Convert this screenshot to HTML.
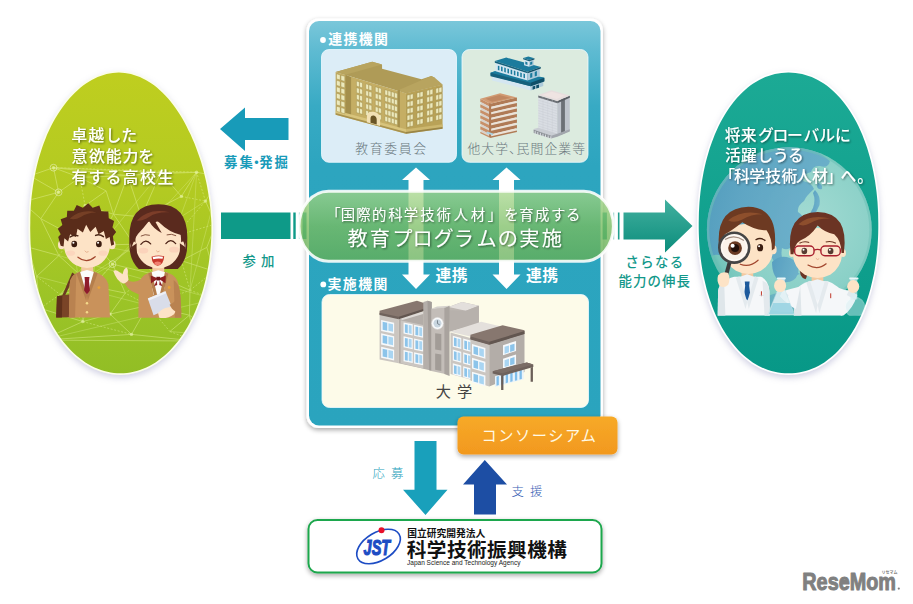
<!DOCTYPE html>
<html lang="ja">
<head>
<meta charset="utf-8">
<title>国際的科学技術人材を育成する教育プログラムの実施</title>
<style>
html,body{margin:0;padding:0;background:#fff;}
body{width:913px;height:604px;overflow:hidden;position:relative;font-family:"Liberation Sans","Noto Sans CJK JP",sans-serif;}
svg{position:absolute;left:0;top:0;display:block;}
text{font-family:"Liberation Sans","Noto Sans CJK JP",sans-serif;}
.w{fill:#fff;}
.b{font-weight:700;}
</style>
</head>
<body>
<svg width="913" height="604" viewBox="0 0 913 604">
<defs>
  <linearGradient id="gPanel" x1="0" y1="0" x2="0" y2="1">
    <stop offset="0" stop-color="#7ac7da"/>
    <stop offset="0.07" stop-color="#5fbbd2"/>
    <stop offset="0.21" stop-color="#38aac4"/>
    <stop offset="0.36" stop-color="#2da5bf"/>
    <stop offset="1" stop-color="#2aa4be"/>
  </linearGradient>
  <linearGradient id="gLeft" x1="0" y1="0" x2="0" y2="1">
    <stop offset="0" stop-color="#bfce1f"/>
    <stop offset="0.4" stop-color="#b2ca22"/>
    <stop offset="0.75" stop-color="#9cc427"/>
    <stop offset="1" stop-color="#92be25"/>
  </linearGradient>
  <linearGradient id="gRight" x1="0" y1="0" x2="0" y2="1">
    <stop offset="0" stop-color="#1caa95"/>
    <stop offset="1" stop-color="#079887"/>
  </linearGradient>
  <linearGradient id="gPill" x1="0" y1="0" x2="0" y2="1">
    <stop offset="0" stop-color="#a2d586" stop-opacity="0.78"/>
    <stop offset="0.5" stop-color="#78bc60" stop-opacity="0.79"/>
    <stop offset="1" stop-color="#62ae56" stop-opacity="0.8"/>
  </linearGradient>
  <linearGradient id="gArrowR" x1="0" y1="0" x2="0" y2="1">
    <stop offset="0" stop-color="#43b09f"/>
    <stop offset="1" stop-color="#0b8d7c"/>
  </linearGradient>
  <linearGradient id="gOrange" x1="0" y1="0" x2="0" y2="1">
    <stop offset="0" stop-color="#f7aa28"/>
    <stop offset="1" stop-color="#f2981e"/>
  </linearGradient>
  <filter id="sh" x="-10%" y="-10%" width="120%" height="125%">
    <feGaussianBlur in="SourceAlpha" stdDeviation="2.5"/>
    <feOffset dx="0" dy="2" result="o"/>
    <feComponentTransfer><feFuncA type="linear" slope="0.35"/></feComponentTransfer>
    <feMerge><feMergeNode/><feMergeNode in="SourceGraphic"/></feMerge>
  </filter>
  <filter id="shE" x="-10%" y="-6%" width="120%" height="114%">
    <feGaussianBlur in="SourceAlpha" stdDeviation="3"/>
    <feOffset dx="0" dy="2.5" result="b"/>
    <feFlood flood-color="#9c9cc4" flood-opacity="0.45"/>
    <feComposite in2="b" operator="in"/>
    <feMerge><feMergeNode/><feMergeNode in="SourceGraphic"/></feMerge>
  </filter>
  <filter id="tsh" x="-5%" y="-20%" width="110%" height="150%">
    <feGaussianBlur in="SourceAlpha" stdDeviation="0.8"/>
    <feOffset dx="0.8" dy="1" result="o"/>
    <feComponentTransfer><feFuncA type="linear" slope="0.5"/></feComponentTransfer>
    <feMerge><feMergeNode/><feMergeNode in="SourceGraphic"/></feMerge>
  </filter>
  <clipPath id="clipL"><path d="M118.8 72.6 L121.8 72.7 L124.8 73 L127.9 73.4 L130.9 74.1 L133.9 74.9 L136.9 75.9 L139.9 77.1 L142.8 78.4 L145.8 80 L148.7 81.7 L151.5 83.5 L154.4 85.6 L157.2 87.8 L159.9 90.2 L162.6 92.7 L165.3 95.4 L167.9 98.3 L170.4 101.3 L172.9 104.5 L175.3 107.8 L177.7 111.2 L180 114.8 L182.3 118.5 L184.4 122.3 L186.5 126.3 L188.5 130.4 L190.6 134.6 L192.5 138.9 L194.4 143.3 L196.1 147.8 L197.8 152.4 L199.4 157 L201 161.8 L202.4 166.6 L203.7 171.5 L204.9 176.5 L206.1 181.5 L207.1 186.6 L208 191.7 L208.8 196.8 L209.6 202 L210.2 207.2 L210.7 212.5 L211.1 217.7 L211.4 222.9 L211.4 228.2 L211.4 233.4 L211.2 238.7 L210.9 243.9 L210.5 249.1 L209.9 254.2 L209.3 259.3 L208.6 264.4 L207.7 269.4 L206.7 274.4 L205.7 279.3 L204.5 284.1 L203.2 288.9 L201.8 293.5 L200.3 298.1 L198.7 302.6 L197 307 L195.3 311.3 L193.4 315.5 L191.4 319.6 L189.4 323.6 L187.2 327.4 L185 331.1 L182.7 334.7 L180.3 338.1 L177.8 341.4 L175.2 344.6 L172.6 347.6 L169.9 350.5 L167.1 353.2 L164.3 355.7 L161.4 358.1 L158.5 360.3 L155.5 362.4 L152.5 364.2 L149.4 365.9 L146.3 367.5 L143.1 368.8 L139.9 370 L136.7 371 L133.5 371.8 L130.3 372.5 L127 372.9 L123.7 373.2 L120.4 373.3 L117.2 373.2 L113.9 372.9 L110.6 372.5 L107.4 371.8 L104.2 371 L101 370 L97.8 368.8 L94.6 367.5 L91.5 365.9 L88.4 364.2 L85.4 362.4 L82.4 360.3 L79.5 358.1 L76.6 355.7 L73.8 353.2 L71 350.5 L68.3 347.6 L65.7 344.6 L63.1 341.4 L60.6 338.1 L58.2 334.7 L55.9 331.1 L53.7 327.4 L51.5 323.6 L49.5 319.6 L47.5 315.5 L45.6 311.3 L43.9 307 L42.2 302.6 L40.7 298.1 L39.2 293.5 L37.9 288.9 L36.6 284.1 L35.5 279.3 L34.5 274.4 L33.6 269.4 L32.7 264.4 L32.1 259.3 L31.5 254.2 L31 249.1 L30.6 243.9 L30.4 238.7 L30.3 233.4 L30.2 228.2 L30.3 222.9 L30.3 217.7 L30.5 212.5 L30.7 207.2 L31.1 202 L31.6 196.8 L32.2 191.7 L32.9 186.6 L33.7 181.5 L34.6 176.5 L35.6 171.5 L36.7 166.6 L37.9 161.8 L39.2 157 L40.6 152.4 L42.1 147.8 L43.7 143.3 L45.4 138.9 L47.1 134.6 L49 130.4 L51 126.3 L53.1 122.3 L55.2 118.5 L57.5 114.8 L59.8 111.2 L62.2 107.8 L64.6 104.5 L67.1 101.3 L69.6 98.3 L72.2 95.4 L74.9 92.7 L77.6 90.2 L80.3 87.8 L83.1 85.6 L86 83.5 L88.8 81.7 L91.7 80 L94.7 78.4 L97.6 77.1 L100.6 75.9 L103.6 74.9 L106.6 74.1 L109.6 73.4 L112.7 73 L115.7 72.7 Z"/></clipPath>
  <clipPath id="clipR"><path d="M788.5 72.6 L792.1 72.7 L795.5 73 L798.8 73.4 L802.1 74.1 L805.4 74.9 L808.5 75.9 L811.7 77.1 L814.8 78.4 L817.8 80 L820.8 81.7 L823.8 83.5 L826.7 85.6 L829.5 87.8 L832.3 90.2 L835 92.7 L837.7 95.4 L840.3 98.3 L842.8 101.3 L845.3 104.5 L847.7 107.8 L850 111.2 L852.2 114.8 L854.4 118.5 L856.5 122.3 L858.5 126.3 L860.4 130.4 L862.2 134.6 L863.9 138.9 L865.5 143.3 L867.1 147.8 L868.5 152.4 L869.8 157 L871.1 161.8 L872.2 166.6 L873.3 171.5 L874.2 176.5 L875.1 181.5 L875.8 186.6 L876.5 191.7 L877 196.8 L877.5 202 L877.8 207.2 L878.1 212.5 L878.2 217.7 L878.3 222.9 L878.3 228.2 L878.2 233.4 L878 238.7 L877.7 243.9 L877.3 249.1 L876.8 254.2 L876.2 259.3 L875.5 264.4 L874.7 269.4 L873.8 274.4 L872.7 279.3 L871.6 284.1 L870.4 288.9 L869.1 293.5 L867.7 298.1 L866.2 302.6 L864.6 307 L862.9 311.3 L861.1 315.5 L859.2 319.6 L857.2 323.6 L855.1 327.4 L853 331.1 L850.7 334.7 L848.4 338.1 L846 341.4 L843.5 344.6 L841 347.6 L838.4 350.5 L835.7 353.2 L832.9 355.7 L830.1 358.1 L827.2 360.3 L824.3 362.4 L821.3 364.2 L818.3 365.9 L815.2 367.5 L812 368.8 L808.9 370 L805.6 371 L802.3 371.8 L799 372.5 L795.6 372.9 L792.2 373.2 L788.5 373.3 L784.8 373.2 L781.4 372.9 L778 372.5 L774.7 371.8 L771.4 371 L768.1 370 L765 368.8 L761.8 367.5 L758.7 365.9 L755.7 364.2 L752.7 362.4 L749.8 360.3 L746.9 358.1 L744.1 355.7 L741.3 353.2 L738.6 350.5 L736 347.6 L733.5 344.6 L731 341.4 L728.6 338.1 L726.3 334.7 L724 331.1 L721.9 327.4 L719.8 323.6 L717.8 319.6 L715.9 315.5 L714.1 311.3 L712.4 307 L710.8 302.6 L709.3 298.1 L707.9 293.5 L706.6 288.9 L705.4 284.1 L704.3 279.3 L703.2 274.4 L702.3 269.4 L701.5 264.4 L700.8 259.3 L700.2 254.2 L699.7 249.1 L699.3 243.9 L699 238.7 L698.8 233.4 L698.7 228.2 L698.7 222.9 L698.8 217.7 L698.9 212.5 L699.2 207.2 L699.5 202 L700 196.8 L700.5 191.7 L701.2 186.6 L701.9 181.5 L702.8 176.5 L703.7 171.5 L704.8 166.6 L705.9 161.8 L707.2 157 L708.5 152.4 L709.9 147.8 L711.5 143.3 L713.1 138.9 L714.8 134.6 L716.6 130.4 L718.5 126.3 L720.5 122.3 L722.6 118.5 L724.8 114.8 L727 111.2 L729.3 107.8 L731.7 104.5 L734.2 101.3 L736.7 98.3 L739.3 95.4 L742 92.7 L744.7 90.2 L747.5 87.8 L750.3 85.6 L753.2 83.5 L756.2 81.7 L759.2 80 L762.2 78.4 L765.3 77.1 L768.5 75.9 L771.6 74.9 L774.9 74.1 L778.2 73.4 L781.5 73 L784.9 72.7 Z"/></clipPath>
</defs>

<!-- ===== LEFT ELLIPSE ===== -->
<g id="left">
  <path d="M118.8 72.6 L121.8 72.7 L124.8 73 L127.9 73.4 L130.9 74.1 L133.9 74.9 L136.9 75.9 L139.9 77.1 L142.8 78.4 L145.8 80 L148.7 81.7 L151.5 83.5 L154.4 85.6 L157.2 87.8 L159.9 90.2 L162.6 92.7 L165.3 95.4 L167.9 98.3 L170.4 101.3 L172.9 104.5 L175.3 107.8 L177.7 111.2 L180 114.8 L182.3 118.5 L184.4 122.3 L186.5 126.3 L188.5 130.4 L190.6 134.6 L192.5 138.9 L194.4 143.3 L196.1 147.8 L197.8 152.4 L199.4 157 L201 161.8 L202.4 166.6 L203.7 171.5 L204.9 176.5 L206.1 181.5 L207.1 186.6 L208 191.7 L208.8 196.8 L209.6 202 L210.2 207.2 L210.7 212.5 L211.1 217.7 L211.4 222.9 L211.4 228.2 L211.4 233.4 L211.2 238.7 L210.9 243.9 L210.5 249.1 L209.9 254.2 L209.3 259.3 L208.6 264.4 L207.7 269.4 L206.7 274.4 L205.7 279.3 L204.5 284.1 L203.2 288.9 L201.8 293.5 L200.3 298.1 L198.7 302.6 L197 307 L195.3 311.3 L193.4 315.5 L191.4 319.6 L189.4 323.6 L187.2 327.4 L185 331.1 L182.7 334.7 L180.3 338.1 L177.8 341.4 L175.2 344.6 L172.6 347.6 L169.9 350.5 L167.1 353.2 L164.3 355.7 L161.4 358.1 L158.5 360.3 L155.5 362.4 L152.5 364.2 L149.4 365.9 L146.3 367.5 L143.1 368.8 L139.9 370 L136.7 371 L133.5 371.8 L130.3 372.5 L127 372.9 L123.7 373.2 L120.4 373.3 L117.2 373.2 L113.9 372.9 L110.6 372.5 L107.4 371.8 L104.2 371 L101 370 L97.8 368.8 L94.6 367.5 L91.5 365.9 L88.4 364.2 L85.4 362.4 L82.4 360.3 L79.5 358.1 L76.6 355.7 L73.8 353.2 L71 350.5 L68.3 347.6 L65.7 344.6 L63.1 341.4 L60.6 338.1 L58.2 334.7 L55.9 331.1 L53.7 327.4 L51.5 323.6 L49.5 319.6 L47.5 315.5 L45.6 311.3 L43.9 307 L42.2 302.6 L40.7 298.1 L39.2 293.5 L37.9 288.9 L36.6 284.1 L35.5 279.3 L34.5 274.4 L33.6 269.4 L32.7 264.4 L32.1 259.3 L31.5 254.2 L31 249.1 L30.6 243.9 L30.4 238.7 L30.3 233.4 L30.2 228.2 L30.3 222.9 L30.3 217.7 L30.5 212.5 L30.7 207.2 L31.1 202 L31.6 196.8 L32.2 191.7 L32.9 186.6 L33.7 181.5 L34.6 176.5 L35.6 171.5 L36.7 166.6 L37.9 161.8 L39.2 157 L40.6 152.4 L42.1 147.8 L43.7 143.3 L45.4 138.9 L47.1 134.6 L49 130.4 L51 126.3 L53.1 122.3 L55.2 118.5 L57.5 114.8 L59.8 111.2 L62.2 107.8 L64.6 104.5 L67.1 101.3 L69.6 98.3 L72.2 95.4 L74.9 92.7 L77.6 90.2 L80.3 87.8 L83.1 85.6 L86 83.5 L88.8 81.7 L91.7 80 L94.7 78.4 L97.6 77.1 L100.6 75.9 L103.6 74.9 L106.6 74.1 L109.6 73.4 L112.7 73 L115.7 72.7 Z" fill="#fff" stroke="#fbfde8" stroke-width="3.2" filter="url(#shE)"/>
  <path d="M118.8 72.6 L121.8 72.7 L124.8 73 L127.9 73.4 L130.9 74.1 L133.9 74.9 L136.9 75.9 L139.9 77.1 L142.8 78.4 L145.8 80 L148.7 81.7 L151.5 83.5 L154.4 85.6 L157.2 87.8 L159.9 90.2 L162.6 92.7 L165.3 95.4 L167.9 98.3 L170.4 101.3 L172.9 104.5 L175.3 107.8 L177.7 111.2 L180 114.8 L182.3 118.5 L184.4 122.3 L186.5 126.3 L188.5 130.4 L190.6 134.6 L192.5 138.9 L194.4 143.3 L196.1 147.8 L197.8 152.4 L199.4 157 L201 161.8 L202.4 166.6 L203.7 171.5 L204.9 176.5 L206.1 181.5 L207.1 186.6 L208 191.7 L208.8 196.8 L209.6 202 L210.2 207.2 L210.7 212.5 L211.1 217.7 L211.4 222.9 L211.4 228.2 L211.4 233.4 L211.2 238.7 L210.9 243.9 L210.5 249.1 L209.9 254.2 L209.3 259.3 L208.6 264.4 L207.7 269.4 L206.7 274.4 L205.7 279.3 L204.5 284.1 L203.2 288.9 L201.8 293.5 L200.3 298.1 L198.7 302.6 L197 307 L195.3 311.3 L193.4 315.5 L191.4 319.6 L189.4 323.6 L187.2 327.4 L185 331.1 L182.7 334.7 L180.3 338.1 L177.8 341.4 L175.2 344.6 L172.6 347.6 L169.9 350.5 L167.1 353.2 L164.3 355.7 L161.4 358.1 L158.5 360.3 L155.5 362.4 L152.5 364.2 L149.4 365.9 L146.3 367.5 L143.1 368.8 L139.9 370 L136.7 371 L133.5 371.8 L130.3 372.5 L127 372.9 L123.7 373.2 L120.4 373.3 L117.2 373.2 L113.9 372.9 L110.6 372.5 L107.4 371.8 L104.2 371 L101 370 L97.8 368.8 L94.6 367.5 L91.5 365.9 L88.4 364.2 L85.4 362.4 L82.4 360.3 L79.5 358.1 L76.6 355.7 L73.8 353.2 L71 350.5 L68.3 347.6 L65.7 344.6 L63.1 341.4 L60.6 338.1 L58.2 334.7 L55.9 331.1 L53.7 327.4 L51.5 323.6 L49.5 319.6 L47.5 315.5 L45.6 311.3 L43.9 307 L42.2 302.6 L40.7 298.1 L39.2 293.5 L37.9 288.9 L36.6 284.1 L35.5 279.3 L34.5 274.4 L33.6 269.4 L32.7 264.4 L32.1 259.3 L31.5 254.2 L31 249.1 L30.6 243.9 L30.4 238.7 L30.3 233.4 L30.2 228.2 L30.3 222.9 L30.3 217.7 L30.5 212.5 L30.7 207.2 L31.1 202 L31.6 196.8 L32.2 191.7 L32.9 186.6 L33.7 181.5 L34.6 176.5 L35.6 171.5 L36.7 166.6 L37.9 161.8 L39.2 157 L40.6 152.4 L42.1 147.8 L43.7 143.3 L45.4 138.9 L47.1 134.6 L49 130.4 L51 126.3 L53.1 122.3 L55.2 118.5 L57.5 114.8 L59.8 111.2 L62.2 107.8 L64.6 104.5 L67.1 101.3 L69.6 98.3 L72.2 95.4 L74.9 92.7 L77.6 90.2 L80.3 87.8 L83.1 85.6 L86 83.5 L88.8 81.7 L91.7 80 L94.7 78.4 L97.6 77.1 L100.6 75.9 L103.6 74.9 L106.6 74.1 L109.6 73.4 L112.7 73 L115.7 72.7 Z" fill="url(#gLeft)"/>
  <g id="leftnet" clip-path="url(#clipL)">
<g stroke="#ecf8a8" stroke-width="0.8" fill="none" opacity="0.5">
<path d="M112.5 264.1 L152.8 274"/>
<path d="M112.5 264.1 L133.9 244.2"/>
<path d="M112.5 264.1 L96.3 245.2"/>
<path d="M112.5 264.1 L92.4 286.3" stroke-dasharray="2 1.6"/>
<path d="M112.5 264.1 L125.3 293.1"/>
<path d="M206.8 247.4 L181.4 260.7"/>
<path d="M206.8 247.4 L213.9 271.2"/>
<path d="M206.8 247.4 L215.8 224"/>
<path d="M58.9 255.6 L40.8 218.7"/>
<path d="M58.9 255.6 L28 247.1"/>
<path d="M58.9 255.6 L36.6 276.4"/>
<path d="M58.9 255.6 L92.4 286.3"/>
<path d="M58.9 255.6 L73.3 236.1" stroke-dasharray="2 1.6"/>
<path d="M148 305.4 L152.8 274"/>
<path d="M148 305.4 L110.1 314.1"/>
<path d="M148 305.4 L190 290.3" stroke-dasharray="2 1.6"/>
<path d="M148 305.4 L169.9 331.5" stroke-dasharray="2 1.6"/>
<path d="M148 305.4 L189.4 315.2"/>
<path d="M148 305.4 L125.3 293.1" stroke-dasharray="2 1.6"/>
<path d="M148 305.4 L131.5 334.4"/>
<path d="M40.8 218.7 L22.1 202.1"/>
<path d="M40.8 218.7 L58.6 192.3"/>
<path d="M40.8 218.7 L73.3 236.1"/>
<path d="M40.1 308.3 L28 247.1" stroke-dasharray="2 1.6"/>
<path d="M40.1 308.3 L36.6 276.4"/>
<path d="M40.1 308.3 L60.1 294.5" stroke-dasharray="2 1.6"/>
<path d="M40.1 308.3 L82.8 321.6"/>
<path d="M40.1 308.3 L42.1 340.1" stroke-dasharray="2 1.6"/>
<path d="M160.7 172.4 L53.5 167.7"/>
<path d="M160.7 172.4 L127.7 175.5"/>
<path d="M160.7 172.4 L181.4 196.4"/>
<path d="M160.7 172.4 L141.3 216.9"/>
<path d="M160.7 172.4 L196.6 172.3"/>
<path d="M218.4 335.8 L214.8 299.2"/>
<path d="M218.4 335.8 L189.4 315.2"/>
<path d="M218.4 335.8 L213.9 271.2"/>
<path d="M218.4 335.8 L215.8 224"/>
<path d="M218.4 335.8 L194.9 341"/>
<path d="M218.4 335.8 L220.7 176.5"/>
<path d="M152.8 274 L190 290.3"/>
<path d="M152.8 274 L175.3 235.9"/>
<path d="M152.8 274 L133.9 244.2"/>
<path d="M152.8 274 L125.3 293.1" stroke-dasharray="2 1.6"/>
<path d="M152.8 274 L181.4 260.7"/>
<path d="M53.5 167.7 L127.7 175.5"/>
<path d="M53.5 167.7 L79.8 177.4"/>
<path d="M53.5 167.7 L58.6 192.3"/>
<path d="M53.5 167.7 L196.6 172.3" stroke-dasharray="2 1.6"/>
<path d="M53.5 167.7 L29.9 175.8"/>
<path d="M127.7 175.5 L113.5 214.2"/>
<path d="M127.7 175.5 L79.8 177.4"/>
<path d="M127.7 175.5 L141.3 216.9"/>
<path d="M28 247.1 L22.1 202.1" stroke-dasharray="2 1.6"/>
<path d="M28 247.1 L36.6 276.4"/>
<path d="M28 247.1 L42.1 340.1"/>
<path d="M110.1 314.1 L82.8 321.6"/>
<path d="M110.1 314.1 L92.4 286.3" stroke-dasharray="2 1.6"/>
<path d="M110.1 314.1 L125.3 293.1"/>
<path d="M110.1 314.1 L131.5 334.4"/>
<path d="M113.5 214.2 L85.1 205.7"/>
<path d="M113.5 214.2 L133.9 244.2"/>
<path d="M113.5 214.2 L96.3 245.2"/>
<path d="M113.5 214.2 L141.3 216.9"/>
<path d="M113.5 214.2 L106.1 190.9"/>
<path d="M190 290.3 L214.8 299.2" stroke-dasharray="2 1.6"/>
<path d="M190 290.3 L189.4 315.2"/>
<path d="M190 290.3 L181.4 260.7" stroke-dasharray="2 1.6"/>
<path d="M190 290.3 L213.9 271.2" stroke-dasharray="2 1.6"/>
<path d="M85.1 205.7 L79.8 177.4" stroke-dasharray="2 1.6"/>
<path d="M85.1 205.7 L96.3 245.2"/>
<path d="M85.1 205.7 L73.3 236.1"/>
<path d="M85.1 205.7 L106.1 190.9"/>
<path d="M79.8 177.4 L58.6 192.3"/>
<path d="M79.8 177.4 L106.1 190.9"/>
<path d="M175.3 235.9 L133.9 244.2" stroke-dasharray="2 1.6"/>
<path d="M175.3 235.9 L141.3 216.9"/>
<path d="M175.3 235.9 L205.5 201.1" stroke-dasharray="2 1.6"/>
<path d="M175.3 235.9 L181.4 260.7"/>
<path d="M175.3 235.9 L215.8 224" stroke-dasharray="2 1.6"/>
<path d="M22.1 202.1 L58.6 192.3"/>
<path d="M22.1 202.1 L29.9 175.8" stroke-dasharray="2 1.6"/>
<path d="M36.6 276.4 L60.1 294.5" stroke-dasharray="2 1.6"/>
<path d="M214.8 299.2 L213.9 271.2"/>
<path d="M181.4 196.4 L141.3 216.9"/>
<path d="M181.4 196.4 L205.5 201.1" stroke-dasharray="2 1.6"/>
<path d="M181.4 196.4 L196.6 172.3"/>
<path d="M133.9 244.2 L96.3 245.2"/>
<path d="M133.9 244.2 L141.3 216.9" stroke-dasharray="2 1.6"/>
<path d="M60.1 294.5 L82.8 321.6" stroke-dasharray="2 1.6"/>
<path d="M60.1 294.5 L92.4 286.3"/>
<path d="M82.8 321.6 L42.1 340.1"/>
<path d="M82.8 321.6 L92.4 286.3"/>
<path d="M82.8 321.6 L131.5 334.4" stroke-dasharray="2 1.6"/>
<path d="M42.1 340.1 L131.5 334.4"/>
<path d="M42.1 340.1 L194.9 341"/>
<path d="M96.3 245.2 L92.4 286.3"/>
<path d="M58.6 192.3 L29.9 175.8"/>
<path d="M169.9 331.5 L189.4 315.2"/>
<path d="M169.9 331.5 L194.9 341" stroke-dasharray="2 1.6"/>
<path d="M205.5 201.1 L196.6 172.3" stroke-dasharray="2 1.6"/>
<path d="M205.5 201.1 L215.8 224"/>
<path d="M205.5 201.1 L220.7 176.5"/>
<path d="M92.4 286.3 L125.3 293.1"/>
<path d="M189.4 315.2 L194.9 341"/>
<path d="M196.6 172.3 L220.7 176.5"/>
<path d="M181.4 260.7 L213.9 271.2"/>
<path d="M131.5 334.4 L194.9 341"/>
<path d="M213.9 271.2 L215.8 224"/>
<path d="M215.8 224 L220.7 176.5"/>
<path d="M169.9 331.5 L218.4 335.8" opacity="0.7"/>
<path d="M148 305.4 L36.6 276.4" opacity="0.7"/>
<path d="M196.6 172.3 L148 305.4" opacity="0.7"/>
<path d="M127.7 175.5 L196.6 172.3" opacity="0.7"/>
<path d="M82.8 321.6 L73.3 236.1" opacity="0.7"/>
<path d="M214.8 299.2 L42.1 340.1" opacity="0.7"/>
<path d="M190 290.3 L220.7 176.5" opacity="0.7"/>
<path d="M160.7 172.4 L60.1 294.5" opacity="0.7"/>
<path d="M58.9 255.6 L214.8 299.2" opacity="0.7"/>
<path d="M60.1 294.5 L205.5 201.1" opacity="0.7"/>
<path d="M190 290.3 L196.6 172.3" opacity="0.7"/>
<path d="M196.6 172.3 L92.4 286.3" opacity="0.7"/>
<path d="M112.5 264.1 L60.1 294.5" opacity="0.7"/>
<path d="M96.3 245.2 L181.4 260.7" opacity="0.7"/>
</g><g fill="#f0fab8" opacity="0.55">
<circle cx="112.5" cy="264.1" r="1.7"/>
<circle cx="112.5" cy="264.1" r="3.4" fill="none" stroke="#fff" stroke-width="0.8"/>
<circle cx="148" cy="305.4" r="1.7"/>
<circle cx="160.7" cy="172.4" r="1.7"/>
<circle cx="53.5" cy="167.7" r="1.7"/>
<circle cx="53.5" cy="167.7" r="3.4" fill="none" stroke="#fff" stroke-width="0.8"/>
<circle cx="110.1" cy="314.1" r="1.7"/>
<circle cx="85.1" cy="205.7" r="1.7"/>
<circle cx="22.1" cy="202.1" r="1.7"/>
<circle cx="22.1" cy="202.1" r="3.4" fill="none" stroke="#fff" stroke-width="0.8"/>
<circle cx="181.4" cy="196.4" r="1.7"/>
<circle cx="82.8" cy="321.6" r="1.7"/>
<circle cx="58.6" cy="192.3" r="1.7"/>
<circle cx="58.6" cy="192.3" r="3.4" fill="none" stroke="#fff" stroke-width="0.8"/>
<circle cx="205.5" cy="201.1" r="1.7"/>
<circle cx="196.6" cy="172.3" r="1.7"/>
<circle cx="29.9" cy="175.8" r="1.7"/>
<circle cx="29.9" cy="175.8" r="3.4" fill="none" stroke="#fff" stroke-width="0.8"/>
<circle cx="131.5" cy="334.4" r="1.7"/>
<circle cx="194.9" cy="341" r="1.7"/>
</g>
</g>
  <g id="students">
<g transform="translate(50 198) scale(0.20547)">
<path d="M108 362 L58 478 L70 482 L122 372 Z" fill="#6b3a22"/>
<path d="M34 478 L98 468 L104 580 L30 582 Z" fill="#7a4427"/>
<path d="M34 478 L60 474 L58 582 L30 582 Z" fill="#5f311b"/>
<path d="M92 582 L96 420 Q98 372 150 358 L210 358 Q270 372 284 420 L292 582 Z" fill="#c9925b"/>
<path d="M92 582 L96 420 Q98 380 128 366 L122 582 Z" fill="#b98250"/>
<rect x="152" y="325" width="58" height="45" fill="#f3c9a0"/>
<path d="M138 362 L180 350 L222 362 L200 440 L180 470 L160 440 Z" fill="#fbfbfb"/>
<path d="M128 366 L146 358 L180 475 L176 500 Z" fill="#b57e4c"/>
<path d="M232 366 L214 358 L180 475 L184 500 Z" fill="#b57e4c"/>
<path d="M168 384 L192 384 L190 405 L194 450 L180 470 L166 450 L170 405 Z" fill="#8e1b2c"/>
<circle cx="180" cy="512" r="6" fill="#f4d98a"/><circle cx="180" cy="556" r="6" fill="#f4d98a"/>
<circle cx="238" cy="436" r="7" fill="#e8a23a"/>
<ellipse cx="56" cy="228" rx="17" ry="22" fill="#fde3c6"/><ellipse cx="302" cy="228" rx="17" ry="22" fill="#fde3c6"/>
<path d="M66 200 Q60 120 180 118 Q300 120 294 200 Q298 290 236 326 Q180 356 124 326 Q62 290 66 200 Z" fill="#fde3c6"/>
<ellipse cx="100" cy="268" rx="22" ry="13" fill="#f9c4ae" opacity="0.4"/><ellipse cx="258" cy="268" rx="22" ry="13" fill="#f9c4ae" opacity="0.4"/>
<path d="M52 232 L40 190 L52 176 L38 150 L60 132 L52 104 L82 92 L84 62 L116 62 L130 34 L160 48 L186 26 L208 48 L240 36 L250 64 L284 66 L286 98 L312 112 L304 142 L322 166 L306 186 L312 226 L298 232 L290 190 L272 200 L262 160 L236 176 L222 140 L196 166 L176 130 L160 168 L134 150 L126 190 L98 176 L88 212 L70 196 L66 236 Z" fill="#5a2c1a"/>
<path d="M96 100 Q150 52 226 70 Q180 70 150 92 Q120 110 96 100 Z" fill="#7c4528" opacity="0.8"/>
<path d="M98 190 Q116 176 136 184" stroke="#4a2616" stroke-width="7" fill="none" stroke-linecap="round"/>
<path d="M222 182 Q242 174 260 188" stroke="#4a2616" stroke-width="7" fill="none" stroke-linecap="round"/>
<ellipse cx="118" cy="224" rx="14" ry="16" fill="#3a1c10"/><circle cx="114" cy="218" r="5" fill="#fff"/>
<ellipse cx="238" cy="224" rx="14" ry="16" fill="#3a1c10"/><circle cx="234" cy="218" r="5" fill="#fff"/>
<path d="M170 258 Q176 270 186 262" stroke="#e0a684" stroke-width="4" fill="none" stroke-linecap="round"/>
<path d="M136 288 Q178 322 220 286" stroke="#a2462e" stroke-width="6" fill="none" stroke-linecap="round"/>
</g>
<g transform="translate(108 198) scale(0.20517)">
<path d="M104 210 Q96 30 246 30 Q396 30 386 215 Q390 300 340 346 L150 346 Q100 300 104 210 Z" fill="#5a2a1e"/>
<path d="M168 392 Q120 420 96 398 L78 412 Q110 470 170 470 Z" fill="#c9925b"/>
<path d="M26 356 Q40 346 56 362 L72 372 Q74 346 90 340 Q100 346 96 372 L100 398 Q86 420 70 416 Q40 400 26 356 Z" fill="#fde3c6"/>
<path d="M148 584 L150 430 Q152 380 206 362 L286 362 Q340 380 346 430 L356 584 Z" fill="#c9925b"/>
<path d="M320 400 Q350 420 352 470 L358 584 L326 584 Z" fill="#b98250"/>
<rect x="216" y="335" width="58" height="40" fill="#f3c9a0"/>
<path d="M200 366 L245 352 L290 366 L268 470 L245 500 L222 470 Z" fill="#fbfbfb"/>
<path d="M196 368 L212 360 L246 500 L240 530 Z" fill="#b57e4c"/><path d="M294 368 L278 360 L246 500 L252 530 Z" fill="#b57e4c"/>
<path d="M245 392 L208 378 L210 416 Z" fill="#8e1f22"/><path d="M245 392 L282 378 L280 416 Z" fill="#8e1f22"/><rect x="236" y="384" width="18" height="18" fill="#701418"/>
<path d="M238 402 L224 430 L240 424 Z" fill="#8e1f22"/><path d="M252 402 L266 430 L250 424 Z" fill="#8e1f22"/>
<circle cx="298" cy="436" r="7" fill="#e8a23a"/>
<path d="M194 490 L280 454 L312 532 L222 572 Z" fill="#d9dde9"/>
<path d="M194 490 L280 454 L284 464 L200 500 Z" fill="#eef0f6"/>
<path d="M244 560 Q270 530 320 530 Q336 546 322 566 Q290 590 250 584 Z" fill="#fde3c6"/>
<path d="M300 520 Q340 500 352 470 L358 560 Q330 560 312 540 Z" fill="#b98250"/>
<ellipse cx="124" cy="232" rx="14" ry="20" fill="#fde3c6"/><ellipse cx="366" cy="232" rx="14" ry="20" fill="#fde3c6"/>
<path d="M134 205 Q130 110 245 110 Q360 110 356 205 Q360 290 300 328 Q245 358 190 328 Q130 290 134 205 Z" fill="#fde3c6"/>
<ellipse cx="172" cy="256" rx="24" ry="14" fill="#f9bfae" opacity="0.45"/><ellipse cx="322" cy="252" rx="24" ry="14" fill="#f9bfae" opacity="0.45"/>
<path d="M112 250 Q96 40 246 40 Q392 40 378 250 Q366 200 356 180 Q300 170 250 120 Q240 110 232 118 Q250 150 262 170 Q220 150 200 112 Q170 150 146 176 Q128 200 112 250 Z" fill="#5a2a1e"/>
<path d="M140 110 Q200 46 300 70 Q240 66 200 92 Q166 114 140 110 Z" fill="#85422c" opacity="0.8"/>
<path d="M112 240 Q118 310 160 344 Q136 290 140 220 Z" fill="#5a2a1e"/><path d="M378 240 Q372 310 330 344 Q354 290 350 220 Z" fill="#5a2a1e"/>
<path d="M160 226 Q184 196 208 224" stroke="#4a2014" stroke-width="6" fill="none" stroke-linecap="round"/>
<path d="M282 222 Q306 194 330 222" stroke="#4a2014" stroke-width="6" fill="none" stroke-linecap="round"/>
<path d="M160 186 Q180 174 204 182" stroke="#6a3422" stroke-width="4" fill="none"/><path d="M286 180 Q310 172 332 184" stroke="#6a3422" stroke-width="4" fill="none"/>
<path d="M236 258 Q242 268 250 260" stroke="#e0a684" stroke-width="4" fill="none" stroke-linecap="round"/>
<path d="M212 286 Q244 276 274 284 Q270 330 242 330 Q216 328 212 286 Z" fill="#c8382c"/>
<path d="M218 288 Q244 280 268 286 L266 296 Q244 292 220 298 Z" fill="#fff"/>
<ellipse cx="242" cy="318" rx="16" ry="9" fill="#f08070"/>
</g>
</g>
  <g id="lefttext" class="w" filter="url(#tsh)">
<text x="71.3 88.3 105.5 121.2" y="140.8" font-size="15.9" font-weight="500">卓越した</text>
<text x="71.5 89.0 105.7 122.6 138.3" y="162.3" font-size="15.9" font-weight="500">意欲能力を</text>
<text x="71.5 88.5 105.4 122.4 140.1 157.5" y="183.3" font-size="15.9" font-weight="500">有する高校生</text>
</g>
</g>

<!-- ===== RIGHT ELLIPSE ===== -->
<g id="right">
  <path d="M788.5 72.6 L792.1 72.7 L795.5 73 L798.8 73.4 L802.1 74.1 L805.4 74.9 L808.5 75.9 L811.7 77.1 L814.8 78.4 L817.8 80 L820.8 81.7 L823.8 83.5 L826.7 85.6 L829.5 87.8 L832.3 90.2 L835 92.7 L837.7 95.4 L840.3 98.3 L842.8 101.3 L845.3 104.5 L847.7 107.8 L850 111.2 L852.2 114.8 L854.4 118.5 L856.5 122.3 L858.5 126.3 L860.4 130.4 L862.2 134.6 L863.9 138.9 L865.5 143.3 L867.1 147.8 L868.5 152.4 L869.8 157 L871.1 161.8 L872.2 166.6 L873.3 171.5 L874.2 176.5 L875.1 181.5 L875.8 186.6 L876.5 191.7 L877 196.8 L877.5 202 L877.8 207.2 L878.1 212.5 L878.2 217.7 L878.3 222.9 L878.3 228.2 L878.2 233.4 L878 238.7 L877.7 243.9 L877.3 249.1 L876.8 254.2 L876.2 259.3 L875.5 264.4 L874.7 269.4 L873.8 274.4 L872.7 279.3 L871.6 284.1 L870.4 288.9 L869.1 293.5 L867.7 298.1 L866.2 302.6 L864.6 307 L862.9 311.3 L861.1 315.5 L859.2 319.6 L857.2 323.6 L855.1 327.4 L853 331.1 L850.7 334.7 L848.4 338.1 L846 341.4 L843.5 344.6 L841 347.6 L838.4 350.5 L835.7 353.2 L832.9 355.7 L830.1 358.1 L827.2 360.3 L824.3 362.4 L821.3 364.2 L818.3 365.9 L815.2 367.5 L812 368.8 L808.9 370 L805.6 371 L802.3 371.8 L799 372.5 L795.6 372.9 L792.2 373.2 L788.5 373.3 L784.8 373.2 L781.4 372.9 L778 372.5 L774.7 371.8 L771.4 371 L768.1 370 L765 368.8 L761.8 367.5 L758.7 365.9 L755.7 364.2 L752.7 362.4 L749.8 360.3 L746.9 358.1 L744.1 355.7 L741.3 353.2 L738.6 350.5 L736 347.6 L733.5 344.6 L731 341.4 L728.6 338.1 L726.3 334.7 L724 331.1 L721.9 327.4 L719.8 323.6 L717.8 319.6 L715.9 315.5 L714.1 311.3 L712.4 307 L710.8 302.6 L709.3 298.1 L707.9 293.5 L706.6 288.9 L705.4 284.1 L704.3 279.3 L703.2 274.4 L702.3 269.4 L701.5 264.4 L700.8 259.3 L700.2 254.2 L699.7 249.1 L699.3 243.9 L699 238.7 L698.8 233.4 L698.7 228.2 L698.7 222.9 L698.8 217.7 L698.9 212.5 L699.2 207.2 L699.5 202 L700 196.8 L700.5 191.7 L701.2 186.6 L701.9 181.5 L702.8 176.5 L703.7 171.5 L704.8 166.6 L705.9 161.8 L707.2 157 L708.5 152.4 L709.9 147.8 L711.5 143.3 L713.1 138.9 L714.8 134.6 L716.6 130.4 L718.5 126.3 L720.5 122.3 L722.6 118.5 L724.8 114.8 L727 111.2 L729.3 107.8 L731.7 104.5 L734.2 101.3 L736.7 98.3 L739.3 95.4 L742 92.7 L744.7 90.2 L747.5 87.8 L750.3 85.6 L753.2 83.5 L756.2 81.7 L759.2 80 L762.2 78.4 L765.3 77.1 L768.5 75.9 L771.6 74.9 L774.9 74.1 L778.2 73.4 L781.5 73 L784.9 72.7 Z" fill="#fff" stroke="#fff" stroke-width="3.2" filter="url(#shE)"/>
  <path d="M788.5 72.6 L792.1 72.7 L795.5 73 L798.8 73.4 L802.1 74.1 L805.4 74.9 L808.5 75.9 L811.7 77.1 L814.8 78.4 L817.8 80 L820.8 81.7 L823.8 83.5 L826.7 85.6 L829.5 87.8 L832.3 90.2 L835 92.7 L837.7 95.4 L840.3 98.3 L842.8 101.3 L845.3 104.5 L847.7 107.8 L850 111.2 L852.2 114.8 L854.4 118.5 L856.5 122.3 L858.5 126.3 L860.4 130.4 L862.2 134.6 L863.9 138.9 L865.5 143.3 L867.1 147.8 L868.5 152.4 L869.8 157 L871.1 161.8 L872.2 166.6 L873.3 171.5 L874.2 176.5 L875.1 181.5 L875.8 186.6 L876.5 191.7 L877 196.8 L877.5 202 L877.8 207.2 L878.1 212.5 L878.2 217.7 L878.3 222.9 L878.3 228.2 L878.2 233.4 L878 238.7 L877.7 243.9 L877.3 249.1 L876.8 254.2 L876.2 259.3 L875.5 264.4 L874.7 269.4 L873.8 274.4 L872.7 279.3 L871.6 284.1 L870.4 288.9 L869.1 293.5 L867.7 298.1 L866.2 302.6 L864.6 307 L862.9 311.3 L861.1 315.5 L859.2 319.6 L857.2 323.6 L855.1 327.4 L853 331.1 L850.7 334.7 L848.4 338.1 L846 341.4 L843.5 344.6 L841 347.6 L838.4 350.5 L835.7 353.2 L832.9 355.7 L830.1 358.1 L827.2 360.3 L824.3 362.4 L821.3 364.2 L818.3 365.9 L815.2 367.5 L812 368.8 L808.9 370 L805.6 371 L802.3 371.8 L799 372.5 L795.6 372.9 L792.2 373.2 L788.5 373.3 L784.8 373.2 L781.4 372.9 L778 372.5 L774.7 371.8 L771.4 371 L768.1 370 L765 368.8 L761.8 367.5 L758.7 365.9 L755.7 364.2 L752.7 362.4 L749.8 360.3 L746.9 358.1 L744.1 355.7 L741.3 353.2 L738.6 350.5 L736 347.6 L733.5 344.6 L731 341.4 L728.6 338.1 L726.3 334.7 L724 331.1 L721.9 327.4 L719.8 323.6 L717.8 319.6 L715.9 315.5 L714.1 311.3 L712.4 307 L710.8 302.6 L709.3 298.1 L707.9 293.5 L706.6 288.9 L705.4 284.1 L704.3 279.3 L703.2 274.4 L702.3 269.4 L701.5 264.4 L700.8 259.3 L700.2 254.2 L699.7 249.1 L699.3 243.9 L699 238.7 L698.8 233.4 L698.7 228.2 L698.7 222.9 L698.8 217.7 L698.9 212.5 L699.2 207.2 L699.5 202 L700 196.8 L700.5 191.7 L701.2 186.6 L701.9 181.5 L702.8 176.5 L703.7 171.5 L704.8 166.6 L705.9 161.8 L707.2 157 L708.5 152.4 L709.9 147.8 L711.5 143.3 L713.1 138.9 L714.8 134.6 L716.6 130.4 L718.5 126.3 L720.5 122.3 L722.6 118.5 L724.8 114.8 L727 111.2 L729.3 107.8 L731.7 104.5 L734.2 101.3 L736.7 98.3 L739.3 95.4 L742 92.7 L744.7 90.2 L747.5 87.8 L750.3 85.6 L753.2 83.5 L756.2 81.7 L759.2 80 L762.2 78.4 L765.3 77.1 L768.5 75.9 L771.6 74.9 L774.9 74.1 L778.2 73.4 L781.5 73 L784.9 72.7 Z" fill="url(#gRight)"/>
  <g id="globe" clip-path="url(#clipR)">
<defs><radialGradient id="gGlobe" cx="0.6" cy="0.45" r="0.62"><stop offset="0" stop-color="#a3dbd3"/><stop offset="0.7" stop-color="#8ad0c7"/><stop offset="0.93" stop-color="#74c5bb"/><stop offset="1" stop-color="#5bb8ac"/></radialGradient>
<linearGradient id="gLand" x1="0" y1="0" x2="1" y2="0.3"><stop offset="0" stop-color="#4b93be"/><stop offset="1" stop-color="#64a9c9"/></linearGradient>
<clipPath id="clipGE"><circle cx="789.3" cy="229.7" r="82.4"/></clipPath></defs>
<circle cx="789.3" cy="229.7" r="82.4" fill="url(#gGlobe)"/>
<g clip-path="url(#clipGE)" fill="url(#gLand)" opacity="0.82">
<path d="M700 250 L700 190 Q720 160 760 146 L800 146 Q818 150 830 161 Q828 169 820 166 Q813 165 811 172 Q803 174 803 181 Q812 183 814 189 Q806 196 804 201 Q797 206 798 212 Q804 216 803 221 Q797 222 795 227 Q800 236 794 244 Q788 252 782 248 Q780 258 786 266 Q780 274 774 262 Q770 252 764 256 Q758 268 752 262 Q746 250 738 254 Q730 262 722 256 Q712 252 706 262 Z"/>
<path d="M815 190 Q821 196 819.500 205 Q817 212 812 217 Q809 214 813 208 Q816 200 813 193 Z"/>
<path d="M818 183 Q823 184 822 189 Q818 190 817 186 Z"/>
<path d="M800 232 Q804 232 803 238 Q799 238 800 232 Z"/>
<path d="M804 244 Q809 246 808 256 Q803 254 804 244 Z"/>
<path d="M780 268 Q792 268 800 274 Q790 278 780 274 Z"/>
<path d="M806 262 Q816 262 822 268 Q812 272 806 266 Z"/>
<path d="M772 262 Q780 254 790 258 Q800 262 798 274 Q794 284 782 282 Q772 278 772 262 Z"/>
<path d="M760 300 Q790 284 820 292 Q832 300 828 312 L762 312 Z" opacity="0.6"/>
</g>
<circle cx="789.3" cy="229.7" r="81.200" fill="none" stroke="#6ec1b6" stroke-width="2.400" opacity="0.55"/>
</g>
  <clipPath id="clipS"><rect x="690" y="190" width="200" height="125.8"/></clipPath>
  <g id="scientists" clip-path="url(#clipS)">
<g transform="translate(708 200) scale(0.20198)">
<path d="M48 573 L50 450 Q56 400 130 380 L262 380 Q300 396 304 450 L306 573 Z" fill="#f5f7f9"/>
<path d="M48 573 L50 450 Q54 420 80 404 L86 573 Z" fill="#dfe6ea"/>
<path d="M270 400 Q302 410 304 450 L306 573 L280 573 Z" fill="#e3e9ed"/>
<rect x="166" y="350" width="58" height="45" fill="#f3c9a0"/>
<path d="M150 384 L194 368 L238 384 L214 470 L194 500 L174 470 Z" fill="#eef3f7"/>
<path d="M182 404 L206 404 L204 424 L210 476 L194 498 L178 476 L184 424 Z" fill="#1d5a9c"/>
<path d="M138 386 L156 378 L194 505 L186 540 Z" fill="#e4eaee"/><path d="M250 386 L232 378 L194 505 L202 540 Z" fill="#e4eaee"/>
<rect x="262" y="452" width="5" height="24" fill="#c0392b"/><rect x="254" y="470" width="22" height="3" fill="#ccd4da"/>
<ellipse cx="324" cy="246" rx="16" ry="22" fill="#fde3c6"/>
<path d="M74 220 Q70 120 200 118 Q330 120 324 220 Q328 310 262 350 Q200 382 138 350 Q72 310 74 220 Z" fill="#fde3c6"/>
<path d="M56 250 Q30 40 200 34 Q350 36 330 240 L316 250 Q318 190 290 150 Q230 150 170 110 Q120 150 84 170 Q66 200 70 252 Z" fill="#6d3a22"/>
<path d="M100 100 Q170 44 270 70 Q210 70 170 96 Q130 118 100 100 Z" fill="#96552f" opacity="0.8"/>
<ellipse cx="258" cy="236" rx="15" ry="18" fill="#3a1c10"/><circle cx="253" cy="229" r="5" fill="#fff"/>
<path d="M238 196 Q260 184 282 200" stroke="#4a2616" stroke-width="7" fill="none" stroke-linecap="round"/>
<path d="M160 318 Q206 336 248 298" stroke="#a2462e" stroke-width="6" fill="none" stroke-linecap="round"/>
<path d="M98 306 L116 312 L86 424 L66 418 Z" fill="#3c3c3c"/>
<path d="M50 372 Q70 350 100 362 Q112 390 100 420 Q80 440 56 424 Q42 400 50 372 Z" fill="#fde3c6"/>
<circle cx="130" cy="236" r="74" fill="#fbf3ea" stroke="#454545" stroke-width="13"/>
<circle cx="130" cy="236" r="62" fill="none" stroke="#ffffff" stroke-width="4" opacity="0.8"/>
<circle cx="134" cy="238" r="34" fill="#6a3a22"/><circle cx="134" cy="238" r="20" fill="#24100a"/><circle cx="122" cy="226" r="10" fill="#fff"/>
<path d="M84 196 Q128 168 178 200" stroke="#4a2616" stroke-width="6" fill="none" opacity="0.5"/>
</g>
<g transform="translate(770 200) scale(0.20202)">
<path d="M150 330 Q140 380 176 392 Q190 370 180 336 Z" fill="#6b3424"/>
<path d="M118 573 L122 470 Q128 420 196 402 L286 402 Q346 420 352 470 L358 573 Z" fill="#f5f7f9"/>
<path d="M118 573 L122 470 Q126 440 150 426 L156 573 Z" fill="#dfe6ea"/>
<path d="M150 428 Q100 440 62 452 L50 476 Q90 520 128 540 Z" fill="#f5f7f9"/>
<path d="M62 452 L50 476 Q64 492 78 502 L92 470 Z" fill="#e3e9ed"/>
<path d="M330 430 Q372 452 392 446 L432 470 Q410 540 362 573 L350 573 Z" fill="#f5f7f9"/>
<path d="M392 446 L432 470 L420 494 L380 470 Z" fill="#e3e9ed"/>
<rect x="206" y="375" width="58" height="40" fill="#f3c9a0"/>
<path d="M190 406 L235 392 L280 406 L256 470 L235 500 L214 470 Z" fill="#eef3f7"/>
<path d="M180 408 L198 400 L236 520 L228 560 Z" fill="#e4eaee"/><path d="M290 408 L272 400 L236 520 L244 560 Z" fill="#e4eaee"/>
<rect x="298" y="462" width="5" height="24" fill="#c0392b"/>
<path d="M40 392 L72 392 L72 440 L122 570 L-12 570 L40 440 Z" fill="#e3f3f6" opacity="0.85" stroke="#c5e3ea" stroke-width="3"/>
<path d="M16 510 L98 510 L118 564 L-6 564 Z" fill="#8fcfe0" opacity="0.75"/>
<rect x="34" y="384" width="44" height="10" rx="4" fill="#e9f6f8"/>
<circle cx="420" cy="530" r="48" fill="#d5eef2" opacity="0.45" stroke="#f2fafb" stroke-width="7"/>
<rect x="398" y="392" width="34" height="100" fill="#d5eef2" opacity="0.7"/>
<rect x="392" y="384" width="46" height="10" rx="4" fill="#e9f6f8"/>
<ellipse cx="50" cy="424" rx="30" ry="32" fill="#fde3c6"/>
<ellipse cx="412" cy="428" rx="30" ry="32" fill="#fde3c6"/>
<ellipse cx="108" cy="262" rx="14" ry="20" fill="#fde3c6"/><ellipse cx="362" cy="262" rx="14" ry="20" fill="#fde3c6"/>
<path d="M112 240 Q108 140 235 138 Q362 140 358 240 Q362 330 298 370 Q235 402 172 370 Q108 330 112 240 Z" fill="#fde3c6"/>
<path d="M102 268 Q76 64 236 60 Q392 64 366 262 L354 262 Q352 200 318 170 Q270 160 236 126 Q200 180 150 200 Q122 216 116 268 Z" fill="#6b3424"/>
<path d="M140 120 Q200 66 300 92 Q240 90 200 114 Q166 134 140 120 Z" fill="#96552f" opacity="0.8"/>
<ellipse cx="170" cy="252" rx="14" ry="16" fill="#3a1c10"/><circle cx="166" cy="246" r="5" fill="#fff"/>
<ellipse cx="300" cy="252" rx="14" ry="16" fill="#3a1c10"/><circle cx="296" cy="246" r="5" fill="#fff"/>
<path d="M146 214 Q168 202 194 210" stroke="#6a3422" stroke-width="5" fill="none"/><path d="M276 208 Q302 200 326 214" stroke="#6a3422" stroke-width="5" fill="none"/>
<rect x="122" y="228" width="96" height="48" rx="20" fill="#fff" fill-opacity="0.15" stroke="#a8202e" stroke-width="7"/>
<rect x="252" y="228" width="96" height="48" rx="20" fill="#fff" fill-opacity="0.15" stroke="#a8202e" stroke-width="7"/>
<path d="M218 248 Q235 240 252 248" stroke="#a8202e" stroke-width="6" fill="none"/>
<path d="M228 290 Q234 300 242 292" stroke="#e0a684" stroke-width="4" fill="none" stroke-linecap="round"/>
<path d="M188 322 Q236 350 278 316" stroke="#a2462e" stroke-width="6" fill="none" stroke-linecap="round"/>
</g>
</g>
  <g id="righttext" class="w" filter="url(#tsh)">
<text x="724.8 740.8 758.0 772.5 787.1 803.6 819.3 835.0" y="140.6" font-size="15.8" font-weight="500">将来グローバルに</text>
<text x="724.9 740.9 757.3 773.1 787.9" y="161.4" font-size="15.8" font-weight="500">活躍しうる</text>
<text x="719.2 733.9 749.2 765.3 781.4 796.0 812.0 826.7 840.4 857.2" y="182.2" font-size="15.8" font-weight="500">「科学技術人材」へ。</text>
</g>
</g>

<!-- ===== CENTER PANEL ===== -->
<g id="panel">
  <rect x="306.6" y="18.6" width="296.3" height="409.3" rx="12" fill="#fff" filter="url(#sh)"/>
  <rect x="309" y="21" width="291.5" height="404.5" rx="10" fill="url(#gPanel)"/>
  <circle cx="323" cy="40" r="2.9" fill="#fff"/><text class="w b" x="328.2" y="43.8" font-size="13.9" letter-spacing="1.4">連携機関</text>
  <rect x="321.5" y="49.5" width="135" height="112.8" rx="7.5" fill="#dcedf7" stroke="#eefaff" stroke-opacity="0.8" stroke-width="1"/>
  <rect x="462" y="49.5" width="126" height="112.8" rx="7.5" fill="#dcebdf" stroke="#eefaff" stroke-opacity="0.8" stroke-width="1"/>
  <g id="bld1">
<g transform="translate(330 55) scale(0.14069)">
<path d="M40 120 L300 48 L370 68 L370 98 L650 172 L720 150 L745 162 L745 192 L800 210 L540 272 Z" fill="#af9b57"/>
<path d="M40 120 L300 48 L370 68 L110 140 Z" fill="#b8a45f"/>
<path d="M480 252 L720 150 L745 162 L800 210 L540 272 Z" fill="#b8a45f"/>
<path d="M40 120 L540 272 L540 548 L40 412 Z" fill="#c5ae64"/>
<path d="M110 140 L150 158 L150 445 L110 432 Z" fill="#a48f4c"/>
<path d="M480 252 L497 247 L497 520 L480 530 Z" fill="#a48f4c"/>
<path d="M540 272 L800 210 L800 512 L540 548 Z" fill="#b9a257"/>
<path d="M40 392 L540 528 L540 560 L40 424 Z" fill="#d8c47c"/>
<path d="M540 528 L800 492 L800 524 L540 560 Z" fill="#ccb76e"/>
<path d="M40 412 L540 548 L540 560 L40 424 Z" fill="#a8924e"/>
<path d="M540 548 L800 512 L800 524 L540 560 Z" fill="#9a8546"/>
<g transform="matrix(1 0.304 0 1 0 0)" fill="#ece9bc" stroke="#93803f" stroke-width="2.5">
<rect x="46" y="119.8" width="27" height="36"/>
<rect x="46" y="165.8" width="27" height="36"/>
<rect x="46" y="211.8" width="27" height="36"/>
<rect x="46" y="257.8" width="27" height="36"/>
<rect x="46" y="303.8" width="27" height="36"/>
<rect x="46" y="349.8" width="27" height="36"/>
<rect x="78" y="119.8" width="27" height="36"/>
<rect x="78" y="165.8" width="27" height="36"/>
<rect x="78" y="211.8" width="27" height="36"/>
<rect x="78" y="257.8" width="27" height="36"/>
<rect x="78" y="303.8" width="27" height="36"/>
<rect x="78" y="349.8" width="27" height="36"/>
<rect x="188" y="127.8" width="21" height="36"/>
<rect x="210" y="127.8" width="21" height="36"/>
<rect x="188" y="174.8" width="21" height="36"/>
<rect x="210" y="174.8" width="21" height="36"/>
<rect x="188" y="221.8" width="21" height="36"/>
<rect x="210" y="221.8" width="21" height="36"/>
<rect x="188" y="268.8" width="21" height="36"/>
<rect x="210" y="268.8" width="21" height="36"/>
<rect x="188" y="315.8" width="21" height="36"/>
<rect x="210" y="315.8" width="21" height="36"/>
<rect x="254" y="127.8" width="21" height="36"/>
<rect x="276" y="127.8" width="21" height="36"/>
<rect x="254" y="174.8" width="21" height="36"/>
<rect x="276" y="174.8" width="21" height="36"/>
<rect x="254" y="221.8" width="21" height="36"/>
<rect x="276" y="221.8" width="21" height="36"/>
<rect x="254" y="268.8" width="21" height="36"/>
<rect x="276" y="268.8" width="21" height="36"/>
<rect x="254" y="315.8" width="21" height="36"/>
<rect x="276" y="315.8" width="21" height="36"/>
<rect x="322" y="127.8" width="21" height="36"/>
<rect x="344" y="127.8" width="21" height="36"/>
<rect x="322" y="174.8" width="21" height="36"/>
<rect x="344" y="174.8" width="21" height="36"/>
<rect x="322" y="221.8" width="21" height="36"/>
<rect x="344" y="221.8" width="21" height="36"/>
<rect x="322" y="268.8" width="21" height="36"/>
<rect x="344" y="268.8" width="21" height="36"/>
<rect x="322" y="315.8" width="21" height="36"/>
<rect x="344" y="315.8" width="21" height="36"/>
<rect x="390" y="127.8" width="21" height="36"/>
<rect x="412" y="127.8" width="21" height="36"/>
<rect x="390" y="174.8" width="21" height="36"/>
<rect x="412" y="174.8" width="21" height="36"/>
<rect x="390" y="221.8" width="21" height="36"/>
<rect x="412" y="221.8" width="21" height="36"/>
<rect x="390" y="268.8" width="21" height="36"/>
<rect x="412" y="268.8" width="21" height="36"/>
<rect x="390" y="315.8" width="21" height="36"/>
<rect x="412" y="315.8" width="21" height="36"/>
<rect x="436" y="127.8" width="21" height="36"/>
<rect x="458" y="127.8" width="21" height="36"/>
<rect x="436" y="174.8" width="21" height="36"/>
<rect x="458" y="174.8" width="21" height="36"/>
<rect x="436" y="221.8" width="21" height="36"/>
<rect x="458" y="221.8" width="21" height="36"/>
<rect x="436" y="268.8" width="21" height="36"/>
<rect x="458" y="268.8" width="21" height="36"/>
<rect x="436" y="315.8" width="21" height="36"/>
<rect x="458" y="315.8" width="21" height="36"/>
</g>
<g transform="matrix(1 -0.238 0 1 0 0)" fill="#ece9bc" stroke="#93803f" stroke-width="2.5">
<rect x="548" y="416.5" width="21" height="36"/>
<rect x="570" y="416.5" width="21" height="36"/>
<rect x="548" y="464.5" width="21" height="36"/>
<rect x="570" y="464.5" width="21" height="36"/>
<rect x="548" y="512.5" width="21" height="36"/>
<rect x="570" y="512.5" width="21" height="36"/>
<rect x="548" y="560.5" width="21" height="36"/>
<rect x="570" y="560.5" width="21" height="36"/>
<rect x="548" y="608.5" width="21" height="36"/>
<rect x="570" y="608.5" width="21" height="36"/>
<rect x="618" y="416.5" width="21" height="36"/>
<rect x="640" y="416.5" width="21" height="36"/>
<rect x="618" y="464.5" width="21" height="36"/>
<rect x="640" y="464.5" width="21" height="36"/>
<rect x="618" y="512.5" width="21" height="36"/>
<rect x="640" y="512.5" width="21" height="36"/>
<rect x="618" y="560.5" width="21" height="36"/>
<rect x="640" y="560.5" width="21" height="36"/>
<rect x="618" y="608.5" width="21" height="36"/>
<rect x="640" y="608.5" width="21" height="36"/>
<rect x="688" y="416.5" width="21" height="36"/>
<rect x="710" y="416.5" width="21" height="36"/>
<rect x="688" y="464.5" width="21" height="36"/>
<rect x="710" y="464.5" width="21" height="36"/>
<rect x="688" y="512.5" width="21" height="36"/>
<rect x="710" y="512.5" width="21" height="36"/>
<rect x="688" y="560.5" width="21" height="36"/>
<rect x="710" y="560.5" width="21" height="36"/>
<rect x="688" y="608.5" width="21" height="36"/>
<rect x="710" y="608.5" width="21" height="36"/>
<rect x="752" y="416.5" width="21" height="36"/>
<rect x="774" y="416.5" width="21" height="36"/>
<rect x="752" y="464.5" width="21" height="36"/>
<rect x="774" y="464.5" width="21" height="36"/>
<rect x="752" y="512.5" width="21" height="36"/>
<rect x="774" y="512.5" width="21" height="36"/>
<rect x="752" y="560.5" width="21" height="36"/>
<rect x="774" y="560.5" width="21" height="36"/>
<rect x="752" y="608.5" width="21" height="36"/>
<rect x="774" y="608.5" width="21" height="36"/>
</g>
<path d="M262 478 L262 440 Q262 400 308 404 Q356 410 356 456 L356 504 Z" fill="#f1e0b4"/>
<path d="M288 482 L288 452 Q288 428 310 430 Q332 434 332 462 L332 494 Z" fill="#6a5526"/>
</g>
</g>
  <g id="bld2">
<g transform="translate(475 50) scale(0.15239)">
<path d="M112 165 L365 238 L365 265 L112 200 Z" fill="#d4e6f1"/>
<path d="M365 238 L448 208 L448 236 L365 265 Z" fill="#aecbdb"/>
<path d="M102 150 L140 136 L455 182 L455 204 L365 238 L102 168 Z" fill="#1b7b9d"/>
<path d="M102 150 L190 120 L455 182 L365 215 Z" fill="#1b7b9d"/>
<path d="M102 150 L365 215 L365 238 L102 172 Z" fill="#15607c"/>
<path d="M365 215 L455 182 L455 206 L365 238 Z" fill="#104f68"/>
<path d="M135 84 L345 148 L345 200 L135 140 Z" fill="#d4e6f1"/>
<path d="M345 148 L425 120 L425 172 L345 200 Z" fill="#aecbdb"/>
<path d="M150 102.6 L160 105.6 L160 134.6 L150 131.6 Z" fill="#1b7b9d"/>
<path d="M171 109 L181 112 L181 141 L171 138 Z" fill="#1b7b9d"/>
<path d="M192 115.4 L202 118.4 L202 147.4 L192 144.4 Z" fill="#1b7b9d"/>
<path d="M213 121.8 L223 124.8 L223 153.8 L213 150.8 Z" fill="#1b7b9d"/>
<path d="M234 128.2 L244 131.2 L244 160.2 L234 157.2 Z" fill="#1b7b9d"/>
<path d="M255 134.6 L265 137.6 L265 166.6 L255 163.6 Z" fill="#1b7b9d"/>
<path d="M276 141 L286 144 L286 173 L276 170 Z" fill="#1b7b9d"/>
<path d="M297 147.4 L307 150.4 L307 179.4 L297 176.4 Z" fill="#1b7b9d"/>
<path d="M318 153.8 L328 156.8 L328 185.8 L318 182.8 Z" fill="#1b7b9d"/>
<path d="M362 154.1 L376 149.1 L376 179.1 L362 184.1 Z" fill="#1b7b9d"/>
<path d="M392 143.6 L406 138.6 L406 168.6 L392 173.6 Z" fill="#1b7b9d"/>
<path d="M130 72 L205 50 L432 112 L345 142 Z" fill="#1b7b9d"/>
<path d="M130 72 L345 142 L345 152 L130 84 Z" fill="#15607c"/>
<path d="M345 142 L432 112 L432 122 L345 152 Z" fill="#104f68"/>
<path d="M322 62 L355 72 L355 110 L322 100 Z" fill="#d4e6f1"/>
<path d="M355 72 L385 62 L385 100 L355 110 Z" fill="#aecbdb"/>
<path d="M316 52 L350 42 L390 54 L355 66 Z" fill="#1b7b9d"/>
<path d="M316 52 L355 66 L355 74 L316 60 Z" fill="#15607c"/>
<path d="M355 66 L390 54 L390 62 L355 74 Z" fill="#104f68"/>
<path d="M330 76 L344 80 L344 98 L330 94 Z" fill="#1b7b9d"/>
<path d="M362 80 L376 75 L376 93 L362 98 Z" fill="#1b7b9d"/>
<path d="M378 240 L395 234 L395 255 L378 261 Z" fill="#104f68"/>
<path d="M402 232 L420 226 L420 247 L402 253 Z" fill="#104f68"/>
<path d="M35 320 L100 352 L100 374 L35 342 Z" fill="#c88f68"/>
<path d="M100 352 L275 312 L275 334 L100 374 Z" fill="#b07a55"/>
<path d="M40 342 L100 374 L100 388 L40 356 Z" fill="#d9d0ca"/>
<path d="M100 374 L270 334 L270 348 L100 388 Z" fill="#ece2d8"/>
<path d="M35 356 L100 388 L100 410 L35 378 Z" fill="#c88f68"/>
<path d="M100 388 L275 348 L275 370 L100 410 Z" fill="#b07a55"/>
<path d="M40 378 L100 410 L100 424 L40 392 Z" fill="#d9d0ca"/>
<path d="M100 410 L270 370 L270 384 L100 424 Z" fill="#ece2d8"/>
<path d="M35 392 L100 424 L100 446 L35 414 Z" fill="#c88f68"/>
<path d="M100 424 L275 384 L275 406 L100 446 Z" fill="#b07a55"/>
<path d="M40 414 L100 446 L100 460 L40 428 Z" fill="#d9d0ca"/>
<path d="M100 446 L270 406 L270 420 L100 460 Z" fill="#ece2d8"/>
<path d="M35 428 L100 460 L100 482 L35 450 Z" fill="#c88f68"/>
<path d="M100 460 L275 420 L275 442 L100 482 Z" fill="#b07a55"/>
<path d="M40 450 L100 482 L100 496 L40 464 Z" fill="#d9d0ca"/>
<path d="M100 482 L270 442 L270 456 L100 496 Z" fill="#ece2d8"/>
<path d="M35 464 L100 496 L100 518 L35 486 Z" fill="#c88f68"/>
<path d="M100 496 L275 456 L275 478 L100 518 Z" fill="#b07a55"/>
<path d="M40 486 L100 518 L100 532 L40 500 Z" fill="#d9d0ca"/>
<path d="M100 518 L270 478 L270 492 L100 532 Z" fill="#ece2d8"/>
<path d="M35 500 L100 532 L100 554 L35 522 Z" fill="#c88f68"/>
<path d="M100 532 L275 492 L275 514 L100 554 Z" fill="#b07a55"/>
<path d="M40 522 L100 554 L100 568 L40 536 Z" fill="#d9d0ca"/>
<path d="M100 554 L270 514 L270 528 L100 568 Z" fill="#ece2d8"/>
<path d="M35 536 L100 568 L100 578 L35 546 Z" fill="#c88f68"/>
<path d="M100 568 L275 528 L275 538 L100 578 Z" fill="#b07a55"/>
<path d="M92 346 L106 350 L106 576 L92 570 Z" fill="#b07a55"/>
<path d="M35 320 L165 283 L275 312 L100 352 Z" fill="#d19a73"/>
<path d="M70 320 L160 296 L232 314 L112 340 Z" fill="#c08762"/>
<path d="M78 535 L118 548 L118 560 L78 548 Z" fill="#a9d4e6"/>
<path d="M415 298 L540 335 L540 565 L415 525 Z" fill="#d9dde3"/>
<path d="M540 335 L622 300 L622 530 L540 565 Z" fill="#bfc4cc"/>
<path d="M565 324 L590 313 L590 545 L565 556 Z" fill="#6c7076"/>
<path d="M415 298 L540 335 L540 350 L415 312 Z" fill="#6c7076"/>
<path d="M540 335 L622 300 L622 314 L540 350 Z" fill="#595d63"/>
<path d="M415 296 L500 264 L622 298 L540 334 Z" fill="#e7dede"/>
<path d="M440 296 L503 274 L590 298 L535 322 Z" fill="#efe4e2"/>
<path d="M415 329 L540 367" stroke="#b4b9c2" stroke-width="1.5" fill="none"/>
<path d="M415 346 L540 384" stroke="#b4b9c2" stroke-width="1.5" fill="none"/>
<path d="M415 363 L540 401" stroke="#b4b9c2" stroke-width="1.5" fill="none"/>
<path d="M415 380 L540 418" stroke="#b4b9c2" stroke-width="1.5" fill="none"/>
<path d="M415 397 L540 435" stroke="#b4b9c2" stroke-width="1.5" fill="none"/>
<path d="M415 414 L540 452" stroke="#b4b9c2" stroke-width="1.5" fill="none"/>
<path d="M415 431 L540 469" stroke="#b4b9c2" stroke-width="1.5" fill="none"/>
<path d="M415 448 L540 486" stroke="#b4b9c2" stroke-width="1.5" fill="none"/>
<path d="M415 465 L540 503" stroke="#b4b9c2" stroke-width="1.5" fill="none"/>
<path d="M415 482 L540 520" stroke="#b4b9c2" stroke-width="1.5" fill="none"/>
<path d="M415 499 L540 537" stroke="#b4b9c2" stroke-width="1.5" fill="none"/>
<path d="M446 307.2 L446 535.2" stroke="#c7cbd2" stroke-width="2" fill="none"/>
<path d="M477 316.4 L477 544.4" stroke="#c7cbd2" stroke-width="2" fill="none"/>
<path d="M508 325.5 L508 553.5" stroke="#c7cbd2" stroke-width="2" fill="none"/>
<path d="M385 518 L415 510 L540 548 L540 562 L500 574 L385 532 Z" fill="#c9cdd3"/>
<path d="M385 524 L500 562 L500 580 L385 545 Z" fill="#8d9197"/>
<path d="M500 562 L540 550 L622 520 L622 535 L540 570 L500 580 Z" fill="#a2a6ad"/>
<rect x="392" y="532.3" width="6" height="20" fill="#dfe2e7"/>
<rect x="409" y="537.9" width="6" height="20" fill="#dfe2e7"/>
<rect x="426" y="543.5" width="6" height="20" fill="#dfe2e7"/>
<rect x="443" y="549.1" width="6" height="20" fill="#dfe2e7"/>
<rect x="460" y="554.8" width="6" height="20" fill="#dfe2e7"/>
<rect x="477" y="560.4" width="6" height="20" fill="#dfe2e7"/>
<rect x="494" y="566" width="6" height="20" fill="#dfe2e7"/>
</g>
</g>
  <text x="355.2" y="153" font-size="12.8" letter-spacing="1.7" fill="#6a787e" font-weight="300">教育委員会</text>
  <text x="467.4" y="153" font-size="12.8" letter-spacing="1.1" fill="#6a787e" font-weight="300">他大学、<tspan dx="-6.4">民間企業等</tspan></text>

  <circle cx="323.3" cy="284.4" r="2.9" fill="#fff"/><text class="w b" x="327.4" y="288.8" font-size="13.9" letter-spacing="1.5">実施機関</text>
  <rect x="322" y="294.5" width="266.5" height="113" rx="7.5" fill="#fdfbe9" stroke="#eefaff" stroke-opacity="0.8" stroke-width="1"/>
  <g id="univ">
<g transform="translate(370 295) scale(0.19168)">
<path d="M410 62 L480 36 L568 56 L568 150 L415 190 Z" fill="#bcb6b1"/>
<path d="M410 62 L480 36 L568 56 L500 82 Z" fill="#e3dfdc"/>
<path d="M415 80 L500 82 L568 56 L568 150 L415 190 Z" fill="#b7b1ac"/>
<path d="M50 100 L150 124 L150 356 L50 336 Z" fill="#cbc6c1"/>
<path d="M150 124 L280 90 L280 385 L150 356 Z" fill="#b3ada8"/>
<path d="M150 122 L280 86 L300 92 L170 130 Z" fill="#dedad6"/>
<path d="M50 82 L245 30 L282 42 L282 80 L150 122 L50 102 Z" fill="#87776f"/>
<path d="M50 92 L150 114 L150 126 L50 104 Z" fill="#6f625c"/>
<path d="M150 114 L282 72 L282 84 L150 126 Z" fill="#625650"/>
<path d="M160 132 L282 158 L282 385 L160 356 Z" fill="#cbc6c1"/>
<path d="M58 130 L126 145 L126 202 L58 188 Z" fill="#f6f9fb"/>
<path d="M66 140 L90 145 L90 186 L66 181 Z" fill="#8cc4ea"/>
<path d="M96 147 L120 152 L120 192 L96 187 Z" fill="#a9d5f2"/>
<path d="M58 200 L126 215 L126 272 L58 258 Z" fill="#f6f9fb"/>
<path d="M66 210 L90 215 L90 256 L66 251 Z" fill="#8cc4ea"/>
<path d="M96 217 L120 222 L120 262 L96 257 Z" fill="#a9d5f2"/>
<path d="M58 270 L126 285 L126 342 L58 328 Z" fill="#f6f9fb"/>
<path d="M66 280 L90 285 L90 326 L66 321 Z" fill="#8cc4ea"/>
<path d="M96 287 L120 292 L120 332 L96 327 Z" fill="#a9d5f2"/>
<path d="M175 143 L223 153 L223 211 L175 201 Z" fill="#f6f9fb"/>
<path d="M182 152 L197 155 L197 199 L182 196 Z" fill="#8cc4ea"/>
<path d="M202 156 L217 159 L217 203 L202 200 Z" fill="#a9d5f2"/>
<path d="M175 215 L223 225 L223 283 L175 273 Z" fill="#f6f9fb"/>
<path d="M182 224 L197 227 L197 271 L182 268 Z" fill="#8cc4ea"/>
<path d="M202 228 L217 231 L217 275 L202 272 Z" fill="#a9d5f2"/>
<path d="M175 287 L223 297 L223 355 L175 345 Z" fill="#f6f9fb"/>
<path d="M182 296 L197 299 L197 343 L182 340 Z" fill="#8cc4ea"/>
<path d="M202 300 L217 303 L217 347 L202 344 Z" fill="#a9d5f2"/>
<path d="M230 155.1 L278 165.1 L278 223.1 L230 213.1 Z" fill="#f6f9fb"/>
<path d="M237 164.1 L252 167.1 L252 211.1 L237 208.1 Z" fill="#8cc4ea"/>
<path d="M257 168.1 L272 171.1 L272 215.1 L257 212.1 Z" fill="#a9d5f2"/>
<path d="M230 227.1 L278 237.1 L278 295.1 L230 285.1 Z" fill="#f6f9fb"/>
<path d="M237 236.1 L252 239.1 L252 283.1 L237 280.1 Z" fill="#8cc4ea"/>
<path d="M257 240.1 L272 243.1 L272 287.1 L257 284.1 Z" fill="#a9d5f2"/>
<path d="M230 299.1 L278 309.1 L278 367.1 L230 357.1 Z" fill="#f6f9fb"/>
<path d="M237 308.1 L252 311.1 L252 355.1 L237 352.1 Z" fill="#8cc4ea"/>
<path d="M257 312.1 L272 315.1 L272 359.1 L257 356.1 Z" fill="#a9d5f2"/>
<path d="M278 36 L300 30 L322 36 L322 395 L278 385 Z" fill="#b5afaa"/>
<path d="M300 30 L322 36 L322 395 L308 392 Z" fill="#a39d98"/>
<path d="M320 72 L392 62 L392 412 L320 396 Z" fill="#c3bdb8"/>
<path d="M388 62 L415 56 L415 422 L388 412 Z" fill="#a9a39e"/>
<path d="M320 72 L350 60 L415 56 L392 66 Z" fill="#d5d1cd"/>
<ellipse cx="352" cy="148" rx="30" ry="31" fill="#fafbfc" stroke="#e2e2e2" stroke-width="3"/>
<ellipse cx="352" cy="148" rx="21" ry="22" fill="#c9d6e0"/>
<path d="M352 132 L352 149 L364 156" stroke="#5d6a75" stroke-width="4" fill="none"/>
<path d="M340 200 L372 204 L372 290 L340 284 Z" fill="#a29c97"/>
<path d="M340 305 L372 310 L372 396 L340 390 Z" fill="#a29c97"/>
<path d="M418 192 L580 140 L690 165 L528 218 Z" fill="#e4e0dc"/>
<path d="M420 196 L528 226 L528 442 L420 412 Z" fill="#cbc6c1"/>
<path d="M432 212 L476 224 L476 282 L432 270 Z" fill="#f6f9fb"/>
<path d="M438 222 L452 226 L452 269 L438 265 Z" fill="#8cc4ea"/>
<path d="M457 227 L471 231 L471 274 L457 270 Z" fill="#a9d5f2"/>
<path d="M432 284 L476 296 L476 354 L432 342 Z" fill="#f6f9fb"/>
<path d="M438 294 L452 298 L452 341 L438 337 Z" fill="#8cc4ea"/>
<path d="M457 299 L471 303 L471 346 L457 342 Z" fill="#a9d5f2"/>
<path d="M432 356 L476 368 L476 426 L432 414 Z" fill="#f6f9fb"/>
<path d="M438 366 L452 370 L452 413 L438 409 Z" fill="#8cc4ea"/>
<path d="M457 371 L471 375 L471 418 L457 414 Z" fill="#a9d5f2"/>
<path d="M486 227.1 L530 239.1 L530 297.1 L486 285.1 Z" fill="#f6f9fb"/>
<path d="M492 237.1 L506 241.1 L506 284.1 L492 280.1 Z" fill="#8cc4ea"/>
<path d="M511 242.1 L525 246.1 L525 289.1 L511 285.1 Z" fill="#a9d5f2"/>
<path d="M486 299.1 L530 311.1 L530 369.1 L486 357.1 Z" fill="#f6f9fb"/>
<path d="M492 309.1 L506 313.1 L506 356.1 L492 352.1 Z" fill="#8cc4ea"/>
<path d="M511 314.1 L525 318.1 L525 361.1 L511 357.1 Z" fill="#a9d5f2"/>
<path d="M486 371.1 L530 383.1 L530 441.1 L486 429.1 Z" fill="#f6f9fb"/>
<path d="M492 381.1 L506 385.1 L506 428.1 L492 424.1 Z" fill="#8cc4ea"/>
<path d="M511 386.1 L525 390.1 L525 433.1 L511 429.1 Z" fill="#a9d5f2"/>
<path d="M524 226 L622 256 L622 478 L524 446 Z" fill="#cbc6c1"/>
<path d="M622 256 L806 198 L806 402 L622 478 Z" fill="#b3ada8"/>
<path d="M524 208 L692 158 L806 184 L806 202 L622 258 L524 230 Z" fill="#87776f"/>
<path d="M524 216 L622 244 L622 260 L524 232 Z" fill="#6f625c"/>
<path d="M622 244 L806 188 L806 204 L622 260 Z" fill="#625650"/>
<path d="M532 256 L602 276 L602 332 L532 312 Z" fill="#f6f9fb"/>
<path d="M540 267 L564 274 L564 314 L540 307 Z" fill="#8cc4ea"/>
<path d="M570 276 L594 283 L594 323 L570 316 Z" fill="#a9d5f2"/>
<path d="M532 328 L602 348 L602 404 L532 384 Z" fill="#f6f9fb"/>
<path d="M540 339 L564 346 L564 386 L540 379 Z" fill="#8cc4ea"/>
<path d="M570 348 L594 355 L594 395 L570 388 Z" fill="#a9d5f2"/>
<path d="M532 400 L602 420 L602 476 L532 456 Z" fill="#f6f9fb"/>
<path d="M540 411 L564 418 L564 458 L540 451 Z" fill="#8cc4ea"/>
<path d="M570 420 L594 427 L594 467 L570 460 Z" fill="#a9d5f2"/>
<path d="M694 262 L762 240 L762 292 L694 314 Z" fill="#f6f9fb"/>
<path d="M702 270 L725 263 L725 299 L702 306 Z" fill="#a9d5f2"/>
<path d="M731 261 L754 254 L754 290 L731 297 Z" fill="#8cc4ea"/>
<path d="M694 332 L762 310 L762 362 L694 384 Z" fill="#f6f9fb"/>
<path d="M702 340 L725 333 L725 369 L702 376 Z" fill="#a9d5f2"/>
<path d="M731 331 L754 324 L754 360 L731 367 Z" fill="#8cc4ea"/>
<path d="M652 424 L802 384 L802 440 L652 480 Z" fill="#e9f3fa"/>
<path d="M660 425.9 L672 422.9 L672 469.9 L660 472.9 Z" fill="#7fbdea"/>
<path d="M684 419.5 L696 416.5 L696 463.5 L684 466.5 Z" fill="#7fbdea"/>
<path d="M708 413 L720 410 L720 457 L708 460 Z" fill="#7fbdea"/>
<path d="M732 406.6 L744 403.6 L744 450.6 L732 453.6 Z" fill="#7fbdea"/>
<path d="M756 400.2 L768 397.2 L768 444.2 L756 447.2 Z" fill="#7fbdea"/>
<path d="M780 393.8 L792 390.8 L792 437.8 L780 440.8 Z" fill="#7fbdea"/>
<path d="M640 398 L818 352 L852 362 L852 376 L692 422 L640 410 Z" fill="#6f625c"/>
<path d="M640 398 L818 352 L852 362 L690 408 Z" fill="#7b6d66"/>
<path d="M684 420 L696 418 L696 496 L684 496 Z" fill="#6a5e58"/>
<path d="M838 378 L850 376 L850 452 L838 452 Z" fill="#6a5e58"/>
</g>
</g>
  <g id="daigaku" fill="#444">
<text x="435.8 457.1" y="397.4" font-size="15.2" font-weight="400">大学</text>
</g>
</g>

<!-- vertical double arrows -->
<g id="varrows" fill="#fff">
  <path d="M416 167.5 L430 180 L423.5 180 L423.5 274.5 L430 274.5 L416 289 L402 274.5 L408.5 274.5 L408.5 180 L402 180 Z"/>
  <path d="M506.5 167.5 L520.5 180 L514 180 L514 274.5 L520.5 274.5 L506.5 289 L492.500 274.5 L499 274.5 L499 180 L492.500 180 Z"/>
  <text class="b" x="435.4" y="281.3" font-size="15.8" letter-spacing="0.5">連携</text>
  <text class="b" x="526" y="281.3" font-size="15.8" letter-spacing="0.5">連携</text>
</g>

<!-- ===== horizontal arrows ===== -->
<g id="harrows">
  <path d="M220 129 L245 107.500 L245 118 L288.5 118 L288.5 140 L245 140 L245 151 Z" fill="#189bb9"/>
  <text class="b" x="224" y="166.500" font-size="13.400" fill="#189bb9" letter-spacing="2">募集<tspan dx="-5" letter-spacing="-4">・</tspan>発掘</text>
  <rect x="221" y="212.500" width="69.500" height="26.500" fill="#0e9a88"/>
  <rect x="293.300" y="212.500" width="2.400" height="26.500" fill="#0e9a88"/>
  <rect x="298.900" y="212.500" width="1" height="26.500" fill="#0e9a88" opacity="0.5"/>
  <rect x="302.500" y="212.500" width="4" height="26.500" fill="#0e9a88"/>
  <rect x="602.600" y="212.500" width="4.300" height="27" fill="#0e9a88"/>
  <text x="242.500" y="266" font-size="13.400" fill="#12988a" font-weight="500" letter-spacing="5">参加</text>
  <path d="M623.500 212.500 L665 212.500 L665 199.500 L692.500 226 L665 252.500 L665 239.500 L623.500 239.500 Z" fill="url(#gArrowR)"/>
  <rect x="613.300" y="212.500" width="0.900" height="27" fill="#2aa594" opacity="0.55"/>
  <rect x="617.900" y="212.500" width="1.600" height="27" fill="#1f9f8e"/>
  <g font-size="13.400" fill="#12988a" font-weight="500" letter-spacing="0.800" text-anchor="middle">
    <text x="655" y="267.300" letter-spacing="1.3">さらなる</text>
    <text x="654.700" y="285.500" letter-spacing="1.1">能力の伸長</text>
  </g>
</g>

<!-- ===== PILL ===== -->
<g id="pill">
  <rect x="299" y="191.2" width="314.4" height="70" rx="29.5" ry="35" fill="url(#gPill)" stroke="#ffffff" stroke-opacity="0.88" stroke-width="3"/>
  <rect x="408.500" y="191.500" width="15" height="69.500" fill="#fff" opacity="0.08"/>
  <rect x="499" y="191.500" width="15" height="69.500" fill="#fff" opacity="0.08"/>
  <g id="pilltext" class="w" filter="url(#tsh)">
<text x="326.3 340.7 356.3 372.1 388.2 403.8 420.3 436.4 453.7 470.7 487.5 504.2 519.3 535.0 551.0 566.0" y="220.3" font-size="14.4" font-weight="400">「国際的科学技術人材」を育成する</text>
<text x="347.6 369.8 392.2 412.6 433.4 453.7 476.5 497.8 519.2 541.7" y="245.6" font-size="20.2" font-weight="400">教育プログラムの実施</text>
</g>
</g>

<!-- ===== BOTTOM ===== -->
<g id="bottom">
  <path d="M414.500 441 L436.500 441 L436.500 489.800 L447.500 489.800 L425.500 515 L403 489.800 L414.500 489.800 Z" fill="#19a0bb"/>
  <path d="M484.800 460 L507 484.500 L496 484.500 L496 514.600 L474 514.600 L474 484.500 L463 484.500 Z" fill="#1d4ea4"/>
  <rect x="457.500" y="416.500" width="160" height="38" rx="6" fill="url(#gOrange)" filter="url(#sh)"/>
  <text x="481.6" y="441.4" font-size="15.2" letter-spacing="1.55" fill="#fff9e4">コンソーシアム</text>
  <text x="372.500" y="477.500" font-size="12.400" letter-spacing="6" fill="#2a9fbc" font-weight="300">応募</text>
  <text x="511.500" y="496" font-size="12.400" letter-spacing="6" fill="#3a62b4" font-weight="300">支援</text>
  <rect x="308.500" y="520" width="293" height="52.500" rx="9" fill="#fff" stroke="#1fa74d" stroke-width="2" filter="url(#sh)"/>
  <g id="jst">
<ellipse cx="378.500" cy="546.500" rx="24" ry="14" transform="rotate(-31 378.500 546.500)" fill="none" stroke="#1d4cc4" stroke-width="1.600"/>
<circle cx="381.500" cy="530.200" r="3" fill="#e8102a"/>
<text x="363.600" y="554.800" font-size="21.500" font-weight="700" font-style="italic" fill="#1d4cc4" stroke="#1d4cc4" stroke-width="1.200" textLength="26.500" lengthAdjust="spacingAndGlyphs">JST</text>
</g>
  <text class="b" x="407.2" y="537.4" font-size="9.8" fill="#111" textLength="78" lengthAdjust="spacingAndGlyphs">国立研究開発法人</text>
  <text x="406.8" y="556.8" font-size="19.6" font-weight="700" fill="#111" textLength="160" lengthAdjust="spacing">科学技術振興機構</text>
  <text x="407" y="564.800" font-size="6.300" fill="#222" textLength="113.500" lengthAdjust="spacingAndGlyphs">Japan Science and Technology Agency</text>
</g>

<!-- ===== ReseMom logo ===== -->
<g id="resemom">
  <text x="802.3" y="589.9" font-size="24" font-weight="700" fill="#808080" textLength="93.6" lengthAdjust="spacingAndGlyphs" stroke="#808080" stroke-width="1" stroke-linejoin="round">ReseMom</text><circle cx="898.8" cy="588.6" r="1.1" fill="#808080"/><ellipse cx="844.2" cy="581.6" rx="3" ry="2" fill="#808080"/>
  <text x="881.500" y="573.600" font-size="4" fill="#808080" font-weight="700">リセマム</text>
</g>
</svg>
</body>
</html>
